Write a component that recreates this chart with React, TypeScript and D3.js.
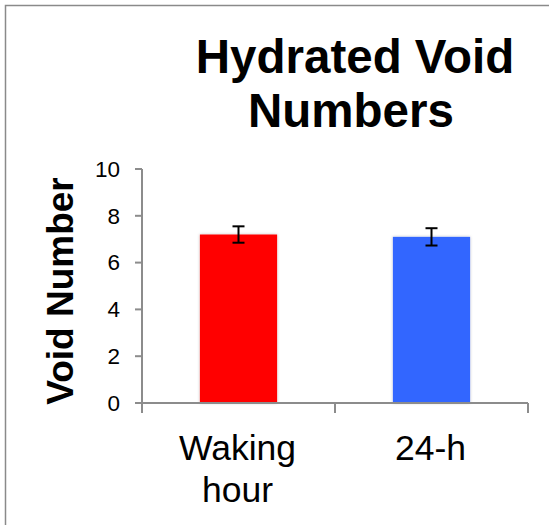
import React from 'react';
import * as d3 from 'd3';

const categories = ['Waking hour', '24-h'];
const categoryLines = [['Waking', 'hour'], ['24-h']];
const meanValues = [7.2, 7.1];
const errorValues = [0.35, 0.37];
const barColors = ['#ff0000', '#3366ff'];
const yTicks = [0, 2, 4, 6, 8, 10];

const W = 549;
const H = 525;
const FONT = '"Liberation Sans", Arial, Helvetica, sans-serif';
const AXIS = '#8c8c8c';

const App = () => {
    const x = d3.scaleBand<string>()
        .domain(categories)
        .range([142, 528])
        .paddingInner(0.6)
        .paddingOuter(0.3);

    const xStep = d3.scaleBand<string>().domain(categories).range([142, 528]);

    const y = d3.scaleLinear().domain([0, 10]).range([403, 169]);

    return (
        <svg width={W} height={H} style={{ position: 'absolute', left: 0, top: 0, background: '#fff' }}>
            <defs>
                <filter id="shadow" x="-10%" y="-10%" width="120%" height="120%">
                    <feDropShadow dx="0" dy="0" stdDeviation="1.5" floodColor="#000" floodOpacity="0.25" />
                </filter>
            </defs>

            {/* outer frame */}
            <path d={`M5.5,${H} V5.5 H${W}`} fill="none" stroke="#8a8a8a" strokeWidth={1.5} />

            {/* title */}
            <text x={355} y={73} textAnchor="middle" fontFamily={FONT} fontWeight="bold" fontSize={47.5} fill="#000">
                Hydrated Void
            </text>
            <text x={351} y={127} textAnchor="middle" fontFamily={FONT} fontWeight="bold" fontSize={47.5} fill="#000">
                Numbers
            </text>

            {/* bars */}
            {categories.map((c, i) => (
                <rect
                    key={c}
                    x={x(c)}
                    y={y(meanValues[i])}
                    width={x.bandwidth()}
                    height={y(0) - y(meanValues[i])}
                    fill={barColors[i]}
                    filter="url(#shadow)"
                />
            ))}

            {/* error bars */}
            {categories.map((c, i) => {
                const cx = (x(c) as number) + x.bandwidth() / 2;
                const top = y(meanValues[i] + errorValues[i]);
                const bot = y(meanValues[i] - errorValues[i]);
                return (
                    <g key={c} stroke="#000" strokeWidth={2}>
                        <line x1={cx} x2={cx} y1={top} y2={bot} />
                        <line x1={cx - 6} x2={cx + 6} y1={top} y2={top} />
                        <line x1={cx - 6} x2={cx + 6} y1={bot} y2={bot} />
                    </g>
                );
            })}

            {/* y axis */}
            <g stroke={AXIS} strokeWidth={2}>
                <line x1={142} x2={142} y1={y(10)} y2={y(0)} />
                {yTicks.map(t => (
                    <line key={t} x1={135} x2={142} y1={y(t)} y2={y(t)} />
                ))}
            </g>
            {yTicks.map(t => (
                <text key={t} x={120} y={y(t)} dy="0.35em" textAnchor="end" fontFamily={FONT} fontSize={22.5} fill="#000">
                    {t}
                </text>
            ))}

            {/* x axis */}
            <g stroke={AXIS} strokeWidth={2}>
                <line x1={135} x2={528} y1={y(0)} y2={y(0)} />
                {[...categories.map(c => xStep(c) as number), 528].map((t, i) => (
                    <line key={i} x1={t} x2={t} y1={y(0)} y2={y(0) + 10} />
                ))}
            </g>
            {categories.map((c, i) => (
                <text key={c} textAnchor="middle" fontFamily={FONT} fontSize={35.5} fill="#000">
                    {categoryLines[i].map((ln, j) => (
                        <tspan key={j} x={(x(c) as number) + x.bandwidth() / 2 - 1} y={460 + j * 42}>{ln}</tspan>
                    ))}
                </text>
            ))}

            {/* y label */}
            <text
                transform="translate(73,291) rotate(-90)"
                textAnchor="middle"
                fontFamily={FONT}
                fontWeight="bold"
                fontSize={37}
                fill="#000"
            >
                Void Number
            </text>
        </svg>
    );
};

export default App;
